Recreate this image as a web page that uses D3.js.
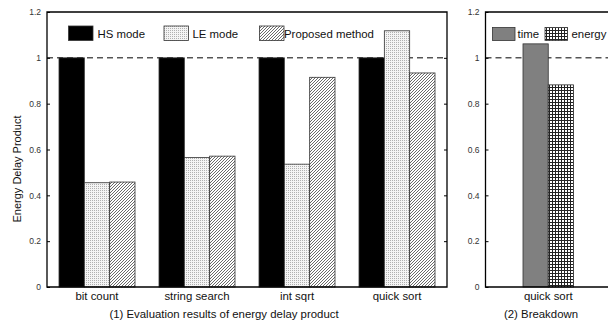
<!DOCTYPE html>
<html><head><meta charset="utf-8">
<script src="https://cdn.jsdelivr.net/npm/d3@7"></script>
<style>body{margin:0;background:#fff}svg{display:block}text{font-family:"Liberation Sans",Arial,sans-serif}</style>
</head><body>
<script>
const categories = ["bit count","string search","int sqrt","quick sort"];
const seriesNames = ["HS mode","LE mode","Proposed method"];
const hsMode = [1,1,1,1];
const leMode = [0.455,0.565,0.536,1.118];
const proposed = [0.458,0.571,0.915,0.934];
const breakdownCats = ["quick sort"];
const breakdownSeries = ["time","energy"];
const timeVals = [1.061];
const energyVals = [0.882];
const yTicks = [0,0.2,0.4,0.6,0.8,1,1.2];
const captions = ["(1) Evaluation results of energy delay product","(2) Breakdown"];
const yTitle = "Energy Delay Product";

const W=608,H=324,FS=11.4;
const svg=d3.select("body").append("svg").attr("width",W).attr("height",H);
const defs=svg.append("defs");
// LE dots
const pd=defs.append("pattern").attr("id","dots").attr("patternUnits","userSpaceOnUse").attr("width",2).attr("height",2);
pd.append("rect").attr("width",2).attr("height",2).attr("fill","#f4f4f4");
pd.append("rect").attr("width",1).attr("height",1).attr("fill","#b0b0b0");
// hatch
const ph=defs.append("pattern").attr("id","hatch").attr("patternUnits","userSpaceOnUse").attr("width",3).attr("height",3);
ph.append("rect").attr("width",3).attr("height",3).attr("fill","#fff");
ph.append("path").attr("d","M-1,1 L1,-1 M0,3 L3,0 M2,4 L4,2").attr("stroke","#444").attr("stroke-width",0.8);
// grid
const pg=defs.append("pattern").attr("id","grid").attr("patternUnits","userSpaceOnUse").attr("width",3).attr("height",3);
pg.append("rect").attr("width",3).attr("height",3).attr("fill","#fff");
pg.append("rect").attr("width",3).attr("height",1).attr("fill","#222");
pg.append("rect").attr("width",1).attr("height",3).attr("fill","#222");

const fills={"HS mode":"#000","LE mode":"url(#dots)","Proposed method":"url(#hatch)","time":"#808080","energy":"url(#grid)"};

const y=d3.scaleLinear().domain([0,1.2]).range([287,12]);
const fmt=d=>d3.format("")(+d.toFixed(1));

function frame(x0,x1,mirror){
  const g=svg.append("g");
  const ax=g.append("g").attr("transform",`translate(${x0},0)`).call(d3.axisLeft(y).tickValues(yTicks).tickSize(-3).tickPadding(6).tickFormat(fmt));
  ax.select(".domain").remove();
  ax.selectAll("line").attr("stroke","#000");
  ax.selectAll("text").attr("font-size",8.5).attr("fill","#333").attr("font-family","Liberation Sans,Arial,sans-serif");
  if(mirror){
    const ar=g.append("g").attr("transform",`translate(${x1},0)`).call(d3.axisRight(y).tickValues(yTicks.slice(1,-1)).tickSize(-3).tickFormat(""));
    ar.select(".domain").remove();
    ar.selectAll("line").attr("stroke","#000");
  }
  g.append("line").attr("x1",x0).attr("x2",x1).attr("y1",y(1)).attr("y2",y(1)).attr("stroke","#000").attr("stroke-dasharray","6,4");
  return g;
}
function border(x0,x1){
  svg.append("path").attr("d",`M${x0},${y(1.2)}V${y(0)}H${x1}V${y(1.2)}Z`).attr("fill","none").attr("stroke","#000").attr("stroke-width",1.3);
}

// ---- left chart
const xL=d3.scaleBand().domain(categories).range([47,447]);
const xL1=d3.scaleBand().domain(seriesNames).range([12,88]);
frame(47,447,true);
const vals={"HS mode":hsMode,"LE mode":leMode,"Proposed method":proposed};
categories.forEach((c,i)=>{
  seriesNames.forEach(s=>{
    const v=vals[s][i];
    svg.append("rect").attr("x",xL(c)+xL1(s)).attr("y",y(v)).attr("width",xL1.bandwidth()).attr("height",y(0)-y(v))
      .attr("fill",fills[s]).attr("stroke","#333").attr("stroke-width",0.8);
  });
  svg.append("text").attr("x",xL(c)+xL.bandwidth()/2).attr("y",300).attr("text-anchor","middle").attr("font-size",FS).attr("fill","#111").text(c);
});
border(47,447);
const legL=[{s:"HS mode",x:68.5,tx:97.5},{s:"LE mode",x:164,tx:192.5},{s:"Proposed method",x:259.5,tx:284}];
legL.forEach(l=>{
  svg.append("rect").attr("x",l.x).attr("y",26).attr("width",24.5).attr("height",14.5).attr("fill",fills[l.s]).attr("stroke","#333").attr("stroke-width",0.8);
  svg.append("text").attr("x",l.tx).attr("y",37.5).attr("font-size",FS).attr("fill","#111").text(l.s);
});
svg.append("text").attr("transform","translate(21,169) rotate(-90)").attr("text-anchor","middle").attr("font-size",11).attr("fill","#111").text(yTitle);
svg.append("text").attr("x",224).attr("y",318).attr("text-anchor","middle").attr("font-size",FS).attr("fill","#111").text(captions[0]);

// ---- right chart
const xR=d3.scaleBand().domain(breakdownCats).range([485.5,611]);
const xR1=d3.scaleBand().domain(breakdownSeries).range([37.5,88]);
frame(485.5,611,false);
const bvals={"time":timeVals,"energy":energyVals};
breakdownCats.forEach((c,i)=>{
  breakdownSeries.forEach(s=>{
    const v=bvals[s][i];
    svg.append("rect").attr("x",xR(c)+xR1(s)).attr("y",y(v)).attr("width",xR1.bandwidth()).attr("height",y(0)-y(v))
      .attr("fill",fills[s]).attr("stroke","#333").attr("stroke-width",0.8);
  });
  svg.append("text").attr("x",xR(c)+xR1(breakdownSeries[1])).attr("y",300).attr("text-anchor","middle").attr("font-size",FS).attr("fill","#111").text(c);
});
border(485.5,611);
const legR=[{s:"time",x:492.5,tx:517.5},{s:"energy",x:545,tx:571.5}];
legR.forEach(l=>{
  svg.append("rect").attr("x",l.x).attr("y",27.5).attr("width",22.5).attr("height",13).attr("fill",fills[l.s]).attr("stroke","#333").attr("stroke-width",0.8);
  svg.append("text").attr("x",l.tx).attr("y",38).attr("font-size",FS).attr("fill","#111").text(l.s);
});
svg.append("text").attr("x",541).attr("y",318).attr("text-anchor","middle").attr("font-size",FS).attr("fill","#111").text(captions[1]);
</script>
</body></html>
